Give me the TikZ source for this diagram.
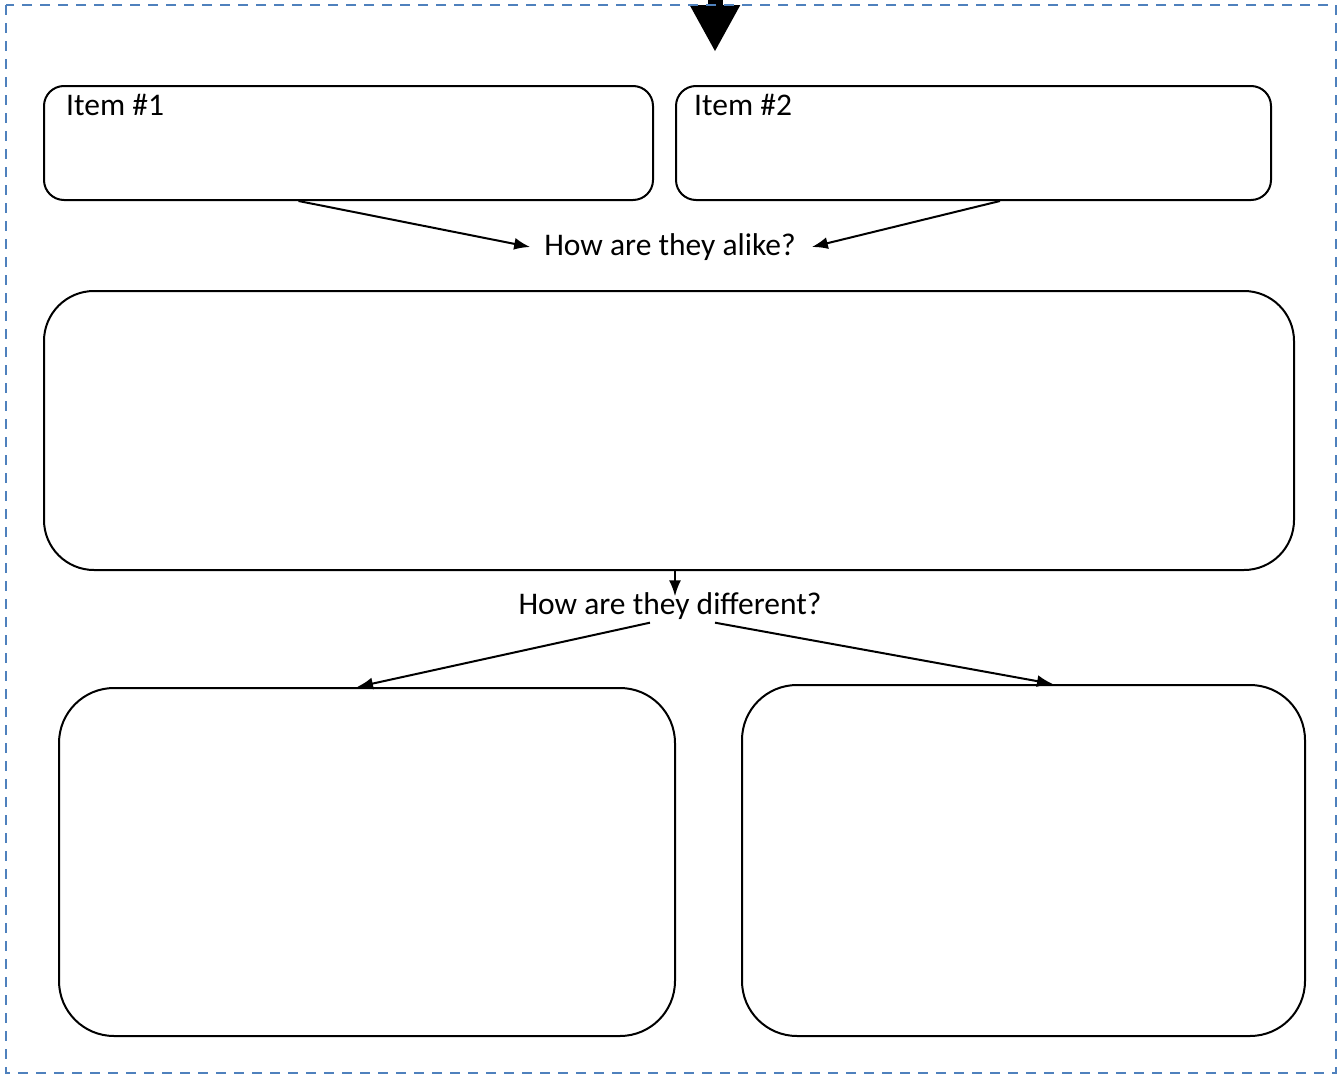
\documentclass[tikz,border=0pt]{standalone}
\usepackage{fontspec}
\setmainfont{Carlito}
\usetikzlibrary{arrows.meta}
\definecolor{frameblue}{RGB}{79,129,189}

\begin{document}
\begin{tikzpicture}[x=1pt,y=-1pt,
    box/.style={draw,line width=2pt,rounded corners=#1,inner sep=0pt},
    lbl/.style={font=\fontsize{31.5}{38}\selectfont,inner sep=0pt},
    arr/.style={line width=2pt,-{Latex[length=16pt,width=12pt]}}]
        \useasboundingbox (0,0) rectangle (1339,1076);
        \coordinate (src) at (715,-4);
        \coordinate (dst) at (715,52);
        \draw[line width=15pt,-{Triangle[length=47pt,width=47pt]}] (src) -- (dst);
        \draw[frameblue,line width=2.5pt,dash pattern=on 10pt off 8pt] (6,5) rectangle (1336,1073);
        \foreach \n/\cx/\w/\tx in {1/348.5/609/66, 2/973.5/595/694} {
            \node[box=20pt,minimum width=\w pt,minimum height=114pt] (item\n) at (\cx,143) {};
            \node[lbl,anchor=base west] (name\n) at (\tx,115) {Item \#\n};
        }
        \node[lbl] (alike) at (670,247) {How are they alike?};
        \draw[arr] ([xshift=-50pt]item1.south) -- ([xshift=-14pt]alike.west);
        \draw[arr] ([xshift=26.5pt]item2.south) -- ([xshift=16pt]alike.east);
        \node[box=50pt,minimum width=1250pt,minimum height=279pt] (same) at (669,430.5) {};
        \node[lbl] (diff) at (670,606) {How are they different?};
        \draw[arr] ([xshift=6pt]same.south) -- ([xshift=5pt,yshift=-4pt]diff.north);
        \node[box=55pt,minimum width=616pt,minimum height=348pt] (left) at (367,862) {};
        \node[box=55pt,minimum width=563pt,minimum height=351pt] (right) at (1023.5,860.5) {};
        \draw[arr] ([xshift=-20pt,yshift=-3pt]diff.south) -- ([xshift=-10pt]left.north);
        \draw[arr] ([xshift=45pt,yshift=-3pt]diff.south) -- ([xshift=29.5pt]right.north);
\end{tikzpicture}
\end{document}
